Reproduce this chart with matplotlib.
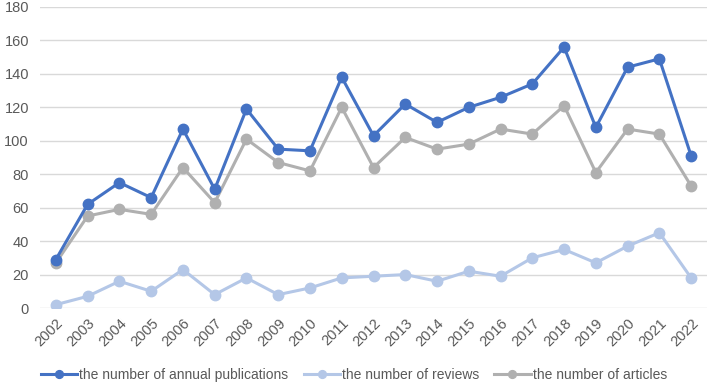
import matplotlib
matplotlib.use("Agg")
import matplotlib.pyplot as plt

years = [str(y) for y in range(2002, 2023)]
publications = [29, 62, 75, 66, 107, 71, 119, 95, 94, 138, 103, 122, 111, 120, 126, 134, 156, 108, 144, 149, 91]
reviews = [2, 7, 16, 10, 23, 8, 18, 8, 12, 18, 19, 20, 16, 22, 19, 30, 35, 27, 37, 45, 18]
articles = [27, 55, 59, 56, 84, 63, 101, 87, 82, 120, 84, 102, 95, 98, 107, 104, 121, 81, 107, 104, 73]

plt.rcParams["font.family"] = ["Liberation Sans", "DejaVu Sans"]

fig = plt.figure(figsize=(7.08, 3.89), dpi=100)
ax = fig.add_axes([40 / 708, 1 - 308 / 389, 667 / 708, 301 / 389])

x = range(len(years))
ax.plot(x, publications, color="#4472C4", lw=2.2, marker="o", ms=7.5,
        label="the number of annual publications", zorder=4)
ax.plot(x, reviews, color="#B4C7E7", lw=2.2, marker="o", ms=7.5,
        label="the number of reviews", zorder=3)
ax.plot(x, articles, color="#B0B0B0", lw=2.2, marker="o", ms=7.5,
        label="the number of articles", zorder=3)

ax.set_xlim(-0.5, len(years) - 0.5)
ax.set_ylim(0, 180)
ax.set_yticks(range(0, 181, 20))
ax.set_xticks(list(x))
ax.set_xticklabels(years, rotation=45, ha="right", rotation_mode="anchor")
ax.tick_params(axis="both", length=0, labelsize=10.5, labelcolor="#595959")
ax.tick_params(axis="y", pad=8)
ax.tick_params(axis="x", pad=6)
ax.grid(axis="y", color="#D9D9D9", lw=1)
ax.set_axisbelow(True)
for s in ax.spines.values():
    s.set_visible(False)

handles, labels = ax.get_legend_handles_labels()
leg = fig.legend(handles, labels, loc="center", bbox_to_anchor=(0.5, 1 - 375 / 389),
                 ncol=3, frameon=False, fontsize=10, handlelength=2.6,
                 columnspacing=1.1, handletextpad=0.15, markerscale=0.75,
                 borderpad=0, borderaxespad=0)
for t in leg.get_texts():
    t.set_color("#595959")

fig.savefig("out.png", dpi=100)
